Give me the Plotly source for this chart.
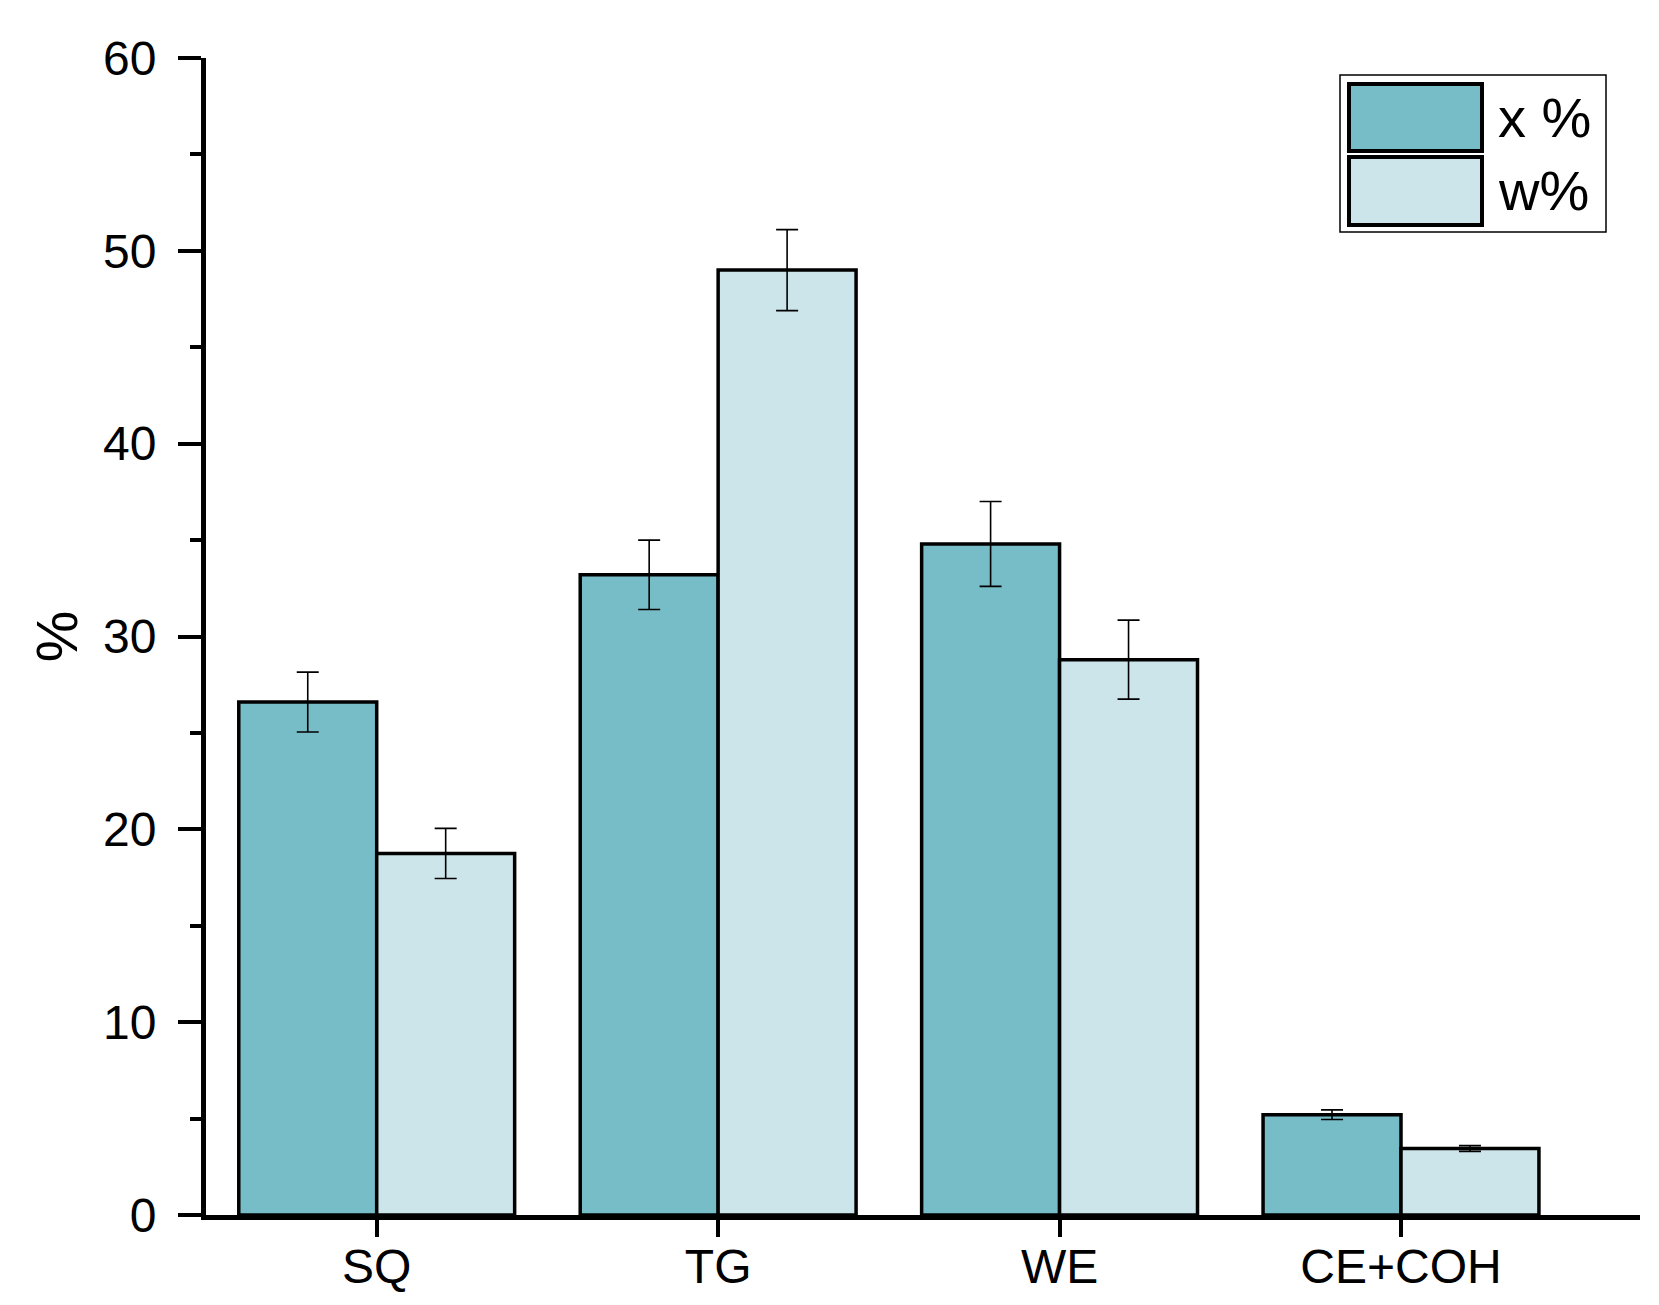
import plotly.graph_objects as go

categories = ["SQ", "TG", "WE", "CE+COH"]
x_pct = [26.6, 33.2, 34.8, 5.2]
x_err = [1.55, 1.8, 2.2, 0.25]
w_pct = [18.75, 49.0, 28.8, 3.45]
w_err = [1.3, 2.1, 2.05, 0.15]
series_names = ["x %", "w%"]
colors = ["#77BDC8", "#CCE5EA"]

W, H = 1659, 1305
ML, MR, MT, MB = 198, 27, 50, 98

fig = go.Figure()
for name, vals, errs, col in zip(series_names, [x_pct, w_pct], [x_err, w_err], colors):
    fig.add_trace(go.Bar(
        x=categories, y=vals, name=name,
        marker=dict(color=col, line=dict(color="black", width=3.5)),
        error_y=dict(type="data", array=errs, visible=True, color="black",
                     thickness=1.6, width=11),
        showlegend=False,
    ))

font_family = "Liberation Sans, Arial, sans-serif"
fig.update_layout(
    width=W, height=H,
    margin=dict(l=ML, r=MR, t=MT, b=MB),
    plot_bgcolor="white", paper_bgcolor="white",
    barmode="group", bargap=0.192, bargroupgap=0,
    font=dict(family=font_family, color="black", size=46),
)
fig.update_xaxes(
    range=[-0.50, 3.70], showline=True, linecolor="black", linewidth=5,
    ticks="outside", ticklen=17, tickwidth=4, tickcolor="black",
    showgrid=False, zeroline=False, tickfont=dict(size=48),
    ticklabelstandoff=-12,
)
fig.update_yaxes(
    range=[0, 60], dtick=10, showline=True, linecolor="black", linewidth=5,
    ticks="outside", ticklen=23, tickwidth=4, tickcolor="black",
    showgrid=False, zeroline=False, tickfont=dict(size=48),
    ticklabelstandoff=12,
    minor=dict(dtick=5, ticks="outside", ticklen=11, tickwidth=4, tickcolor="black"),
    title=dict(text="%", font=dict(size=58), standoff=8),
)

# legend box drawn in paper coords
def px2paper_x(px):
    return (px - ML) / (W - ML - MR)

def px2paper_y(py):
    return 1 - (py - MT) / (H - MT - MB)

fig.add_shape(type="rect", xref="paper", yref="paper",
              x0=px2paper_x(1332), x1=px2paper_x(1598),
              y0=px2paper_y(224), y1=px2paper_y(67),
              line=dict(color="black", width=1.5), fillcolor="white")
rows = [(76, 143), (149, 217)]
for (top, bot), name, col in zip(rows, series_names, colors):
    fig.add_shape(type="rect", xref="paper", yref="paper",
                  x0=px2paper_x(1341), x1=px2paper_x(1474),
                  y0=px2paper_y(bot), y1=px2paper_y(top),
                  line=dict(color="black", width=4), fillcolor=col)
    fig.add_annotation(xref="paper", yref="paper",
                       x=px2paper_x(1488), y=px2paper_y((top + bot) / 2),
                       text=name, showarrow=False, xanchor="left", yanchor="middle",
                       font=dict(size=56, family=font_family, color="black"))

fig.write_html("out.html")
